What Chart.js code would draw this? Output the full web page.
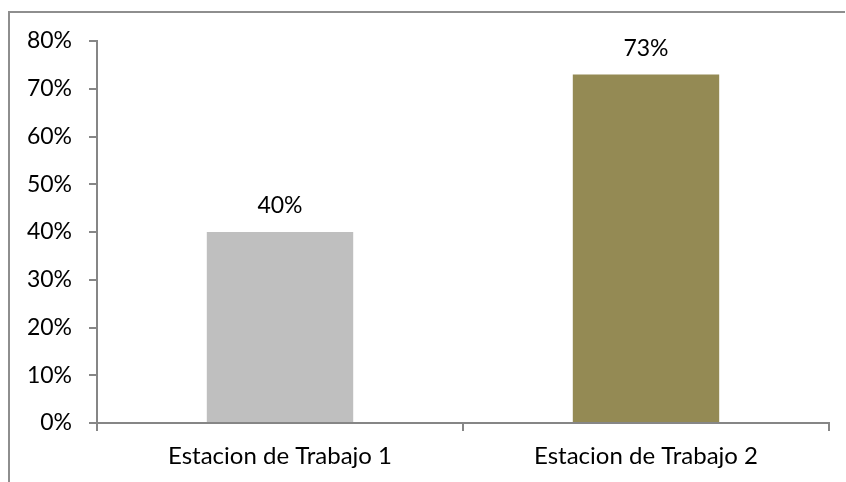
<!DOCTYPE html>
<html>
<head>
<meta charset="utf-8">
<script src="https://cdn.jsdelivr.net/npm/chart.js@4"></script>
<style>
  html, body { margin: 0; padding: 0; background: #fff; }
  #wrap { position: relative; width: 846px; height: 482px; }
  #frame {
    position: absolute; left: 8px; top: 11px; right: 1px; bottom: -2px;
    border-top: 2px solid #8e8e8e; border-left: 2px solid #8e8e8e;
  }
  canvas { position: absolute; left: 0; top: 0; }
</style>
</head>
<body>
<div id="wrap">
  <div id="frame"></div>
  <canvas id="chart" width="846" height="482"></canvas>
</div>
<script>
const categories = ['Estacion de Trabajo 1', 'Estacion de Trabajo 2'];
const values = [40, 73];
const barColors = ['#bfbfbf', '#948a54'];
const yTicks = [0, 10, 20, 30, 40, 50, 60, 70, 80];

const FONT = 'Lato, "Open Sans", sans-serif';
const FONT_SIZE = 23;
const axisColor = '#868686';

// writes each bar's value a bit above its top
const valueLabels = {
    id: 'valueLabels',
    afterDatasetsDraw(chart) {
        const ctx = chart.ctx;
        const meta = chart.getDatasetMeta(0);
        ctx.save();
        ctx.font = FONT_SIZE + 'px ' + FONT;
        ctx.fillStyle = '#000';
        ctx.textAlign = 'center';
        ctx.textBaseline = 'middle';
        meta.data.forEach((bar, i) => {
            ctx.fillText(values[i] + '%', bar.x, bar.y - 26);
        });
        ctx.restore();
    }
};

new Chart(document.getElementById('chart'), {
    type: 'bar',
    data: {
        labels: categories,
        datasets: [{
            data: values,
            backgroundColor: barColors,
            borderWidth: 0,
            categoryPercentage: 1,
            barPercentage: 0.40
        }]
    },
    options: {
        responsive: false,
        animation: false,
        layout: { padding: { top: 41, right: 17, left: 0, bottom: 0 } },
        plugins: { legend: { display: false }, tooltip: { enabled: false } },
        scales: {
            x: {
                grid: {
                    offset: true,
                    drawOnChartArea: false,
                    tickLength: 8,
                    color: axisColor,
                    lineWidth: 2
                },
                border: { color: axisColor, width: 2 },
                ticks: {
                    color: '#000',
                    font: { family: FONT, size: 24 },
                    padding: 11,
                    maxRotation: 0
                },
                afterFit(scale) { scale.height = 59; }
            },
            y: {
                min: 0,
                max: 80,
                afterBuildTicks(scale) {
                    scale.ticks = yTicks.map(v => ({ value: v }));
                },
                grid: {
                    drawOnChartArea: false,
                    tickLength: 8,
                    color: axisColor,
                    lineWidth: 2
                },
                border: { color: axisColor, width: 2 },
                ticks: {
                    color: '#000',
                    font: { family: FONT, size: FONT_SIZE },
                    padding: 17,
                    callback: v => v + '%'
                },
                afterFit(scale) { scale.width = 97; }
            }
        }
    },
    plugins: [valueLabels]
});
</script>
</body>
</html>
